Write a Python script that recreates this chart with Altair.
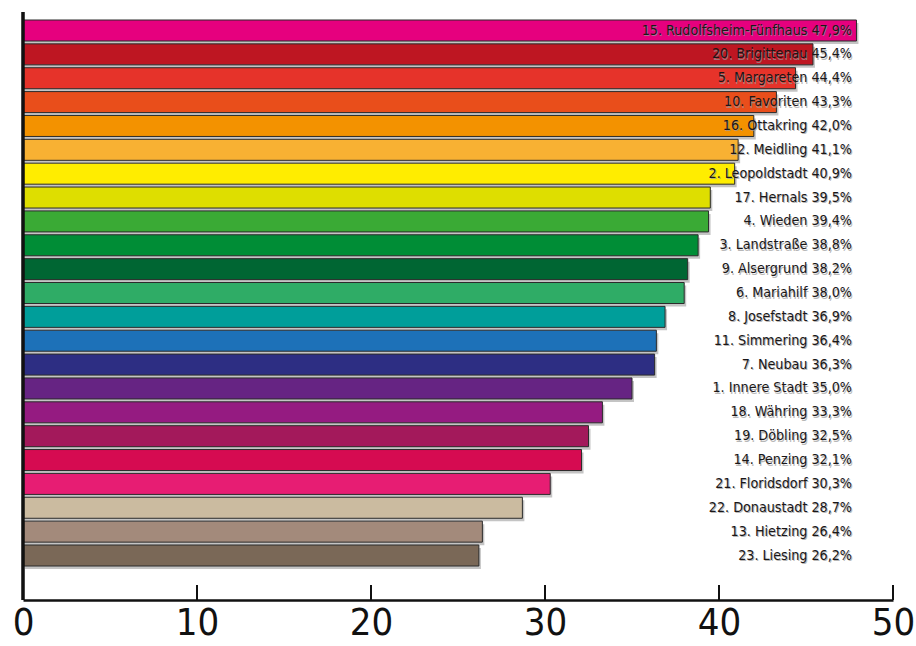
import altair as alt
import pandas as pd

districts = [
    "15. Rudolfsheim-Fünfhaus", "20. Brigittenau", "5. Margareten", "10. Favoriten",
    "16. Ottakring", "12. Meidling", "2. Leopoldstadt", "17. Hernals", "4. Wieden",
    "3. Landstraße", "9. Alsergrund", "6. Mariahilf", "8. Josefstadt", "11. Simmering",
    "7. Neubau", "1. Innere Stadt", "18. Währing", "19. Döbling", "14. Penzing",
    "21. Floridsdorf", "22. Donaustadt", "13. Hietzing", "23. Liesing",
]
values = [47.9, 45.4, 44.4, 43.3, 42.0, 41.1, 40.9, 39.5, 39.4, 38.8, 38.2, 38.0,
          36.9, 36.4, 36.3, 35.0, 33.3, 32.5, 32.1, 30.3, 28.7, 26.4, 26.2]
colors = ["#e6007e", "#be1622", "#e6332a", "#e94e1b", "#f39200", "#f8b133", "#ffed00",
          "#dede00", "#3aaa35", "#008d36", "#006633", "#2fac66", "#009e9a", "#1d71b8",
          "#2d2e83", "#662483", "#951b81", "#a3195b", "#d60b51", "#e71d73", "#cbbba0",
          "#a38a7b", "#7a6857"]
tick_values = [0, 10, 20, 30, 40, 50]

df = pd.DataFrame({
    "district": districts,
    "value": values,
    "label": [d + " " + f"{v:.1f}".replace(".", ",") + "%" for d, v in zip(districts, values)],
})
ticks_df = pd.DataFrame({"v": tick_values[1:]})

FONT = "Liberation Sans Narrow, DejaVu Sans Condensed, sans-serif"
W, H = 870, 588

xscale = alt.Scale(domain=[0, 50], nice=False)
yscale = alt.Scale(domain=districts, range=[8, 554], paddingInner=0.12, paddingOuter=0)
xaxis = alt.Axis(values=tick_values, title=None, ticks=False, grid=False,
                 domainColor="#111111", domainWidth=2.5,
                 labelFont=FONT, labelFontSize=38, labelColor="#111111",
                 labelPadding=4, labelFlush=False)

base = alt.Chart(df)

shadow = base.mark_bar(color="#c4c4c4", xOffset=2, yOffset=3).encode(
    x=alt.X("value:Q", scale=xscale, axis=xaxis),
    y=alt.Y("district:N", scale=yscale, sort=None, axis=None),
)

bars = base.mark_bar(stroke="#2b2b2b", strokeWidth=1).encode(
    x=alt.X("value:Q", scale=xscale, axis=xaxis),
    y=alt.Y("district:N", scale=yscale, sort=None, axis=None),
    color=alt.Color("district:N", scale=alt.Scale(domain=districts, range=colors), legend=None),
)

text_shadow = base.mark_text(align="right", baseline="middle", font=FONT, fontSize=14.2,
                             color="#9a9a9a", dx=1, dy=1.5, opacity=0.7).encode(
    x=alt.value(829),
    y=alt.Y("district:N", scale=yscale, sort=None, axis=None),
    text="label:N",
)

text = base.mark_text(align="right", baseline="middle", font=FONT, fontSize=14.2,
                      color="#1a1718").encode(
    x=alt.value(829),
    y=alt.Y("district:N", scale=yscale, sort=None, axis=None),
    text="label:N",
)

tick_rules = alt.Chart(ticks_df).mark_rule(color="#111111", strokeWidth=2).encode(
    x=alt.X("v:Q", scale=xscale, axis=xaxis),
    y=alt.value(H - 15),
    y2=alt.value(H),
)

left_line = alt.Chart(ticks_df).mark_rule(color="#111111", strokeWidth=2.5).encode(
    x=alt.value(0),
    y=alt.value(0),
    y2=alt.value(H),
)

chart = alt.layer(shadow, bars, text_shadow, text, tick_rules, left_line).properties(
    width=W, height=H,
    background="white",
    autosize=alt.AutoSizeParams(type="none"),
    padding={"left": 23, "top": 12, "right": 23, "bottom": 46},
).configure_view(stroke="white", strokeOpacity=0, strokeWidth=0).configure_axis(grid=False, gridOpacity=0)

chart.save("out.html", embed_options={"renderer": "svg", "actions": False})
